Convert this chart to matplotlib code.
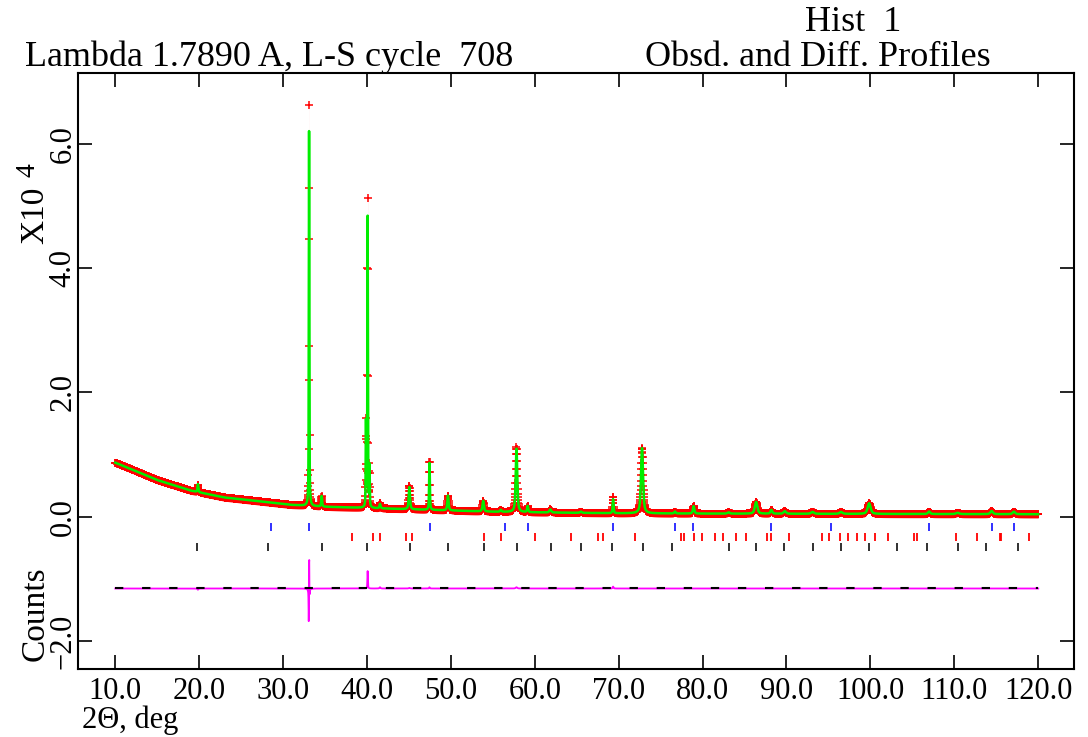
import matplotlib.pyplot as plt
import numpy as np

plt.rcParams['font.family'] = ['Liberation Serif', 'DejaVu Serif']

# background under the pattern (counts / 1e4)
bkg_tth = [10, 12, 15, 19, 23, 27, 31, 35, 40, 45, 50, 55, 60, 70, 80, 100, 120]
bkg_int = [0.87, 0.76, 0.59, 0.42, 0.31, 0.25, 0.19, 0.16, 0.14, 0.12,
           0.10, 0.08, 0.07, 0.055, 0.05, 0.045, 0.04]

# reflections seen in the profile: position, calc height, fwhm,
# and the observed height / fwhm / shift where they differ
peak_tth = [19.85, 33.10, 34.60, 39.88, 40.08, 40.30, 41.55, 45.05, 47.45,
            49.65, 53.85, 55.95, 57.82, 59.15, 61.85, 65.50, 69.33, 72.78,
            76.70, 78.93, 83.10, 86.38, 88.20, 89.80, 93.10, 96.50, 99.85,
            107.0, 110.4, 114.45, 117.1]
peak_calc = [0.13, 6.03, 0.17, 1.35, 4.67, 0.65, 0.07, 0.36, 0.78,
             0.24, 0.17, 0.03, 1.02, 0.10, 0.05, 0.02, 0.23, 1.05,
             0.03, 0.12, 0.02, 0.19, 0.06, 0.04, 0.03, 0.03, 0.17,
             0.04, 0.02, 0.05, 0.04]
peak_fwhm = [0.12, 0.07, 0.12, 0.07, 0.07, 0.07, 0.15, 0.18, 0.10,
             0.18, 0.20, 0.20, 0.22, 0.15, 0.25, 0.25, 0.12, 0.28,
             0.20, 0.20, 0.30, 0.35, 0.25, 0.35, 0.40, 0.40, 0.42,
             0.30, 0.45, 0.35, 0.35]
peak_obs = [0.11, 6.50, 0.17, 1.35, 4.95, 0.65, 0.09, 0.37, 0.80,
            0.24, 0.17, 0.03, 1.04, 0.10, 0.05, 0.02, 0.26, 1.05,
            0.03, 0.12, 0.02, 0.19, 0.06, 0.04, 0.03, 0.03, 0.17,
            0.04, 0.02, 0.05, 0.04]
peak_obs_fwhm = [0.12, 0.062, 0.12, 0.07, 0.07, 0.07, 0.15, 0.18, 0.10,
                 0.18, 0.20, 0.20, 0.22, 0.15, 0.25, 0.25, 0.12, 0.28,
                 0.20, 0.20, 0.30, 0.35, 0.25, 0.35, 0.40, 0.40, 0.42,
                 0.30, 0.45, 0.35, 0.35]
peak_shift = [0.0, 0.003, 0.0, 0.0, 0.0, 0.0, 0.0, 0.0, 0.0,
              0.0, 0.0, 0.0, 0.0, 0.0, 0.0, 0.0, 0.0, 0.0,
              0.0, 0.0, 0.0, 0.0, 0.0, 0.0, 0.0, 0.0, 0.0,
              0.0, 0.0, 0.0, 0.0]

# reflection markers for the three phases
phase1_tth = [28.6, 33.1, 47.5, 56.4, 59.15, 69.3, 76.7, 78.9, 88.2, 95.3,
              107.0, 114.5, 117.1]
phase2_tth = [38.2, 40.7, 41.5, 44.6, 45.4, 53.9, 55.95, 60.0, 64.35, 67.55,
              68.1, 71.9, 77.45, 77.75, 78.95, 79.95, 81.5, 82.45, 84.0, 85.2,
              87.65, 88.1, 90.25, 94.2, 95.1, 96.35, 97.35, 98.4, 99.35, 100.6,
              102.1, 105.15, 105.5, 110.25, 112.65, 115.45, 115.6, 118.95]
phase3_tth = [19.8, 28.15, 34.6, 40.05, 45.1, 49.7, 53.95, 57.9, 61.9, 65.55,
              69.2, 72.9, 76.3, 83.1, 86.4, 89.75, 93.15, 96.5, 99.8, 103.15,
              106.7, 110.4, 113.8, 117.65]

diff_offset = -1.155
step = 0.02


def pv(x, pos, fwhm, eta=0.6):
    u = (x - pos) / (fwhm / 2)
    return eta / (1 + u ** 2) + (1 - eta) * np.exp(-np.log(2) * u ** 2)


tth = np.arange(bkg_tth[0], bkg_tth[-1] + step / 2, step)
bkg = np.interp(tth, bkg_tth, bkg_int)
calc = bkg.copy()
obs = bkg.copy()
for i, p in enumerate(peak_tth):
    calc += peak_calc[i] * pv(tth, p, peak_fwhm[i])
    obs += peak_obs[i] * pv(tth, p + peak_shift[i], peak_obs_fwhm[i])

fig = plt.figure(figsize=(10.88, 7.37), dpi=100)
ax = fig.add_axes([0.072, 0.0923, 0.9154, 0.8087])

ax.fill_between(tth, obs - 0.06, obs + 0.06, color='red', lw=0)
ax.plot(tth, obs, '+', color='red', ms=6, mew=1.1)
ax.plot(tth, calc, color='#00ee00', lw=1.8)

ax.vlines(phase1_tth, -0.16 - 0.065, -0.16 + 0.065, color='#2020ff', lw=1.3)
ax.vlines(phase2_tth, -0.32 - 0.065, -0.32 + 0.065, color='red', lw=1.3)
ax.vlines(phase3_tth, -0.48 - 0.065, -0.48 + 0.065, color='#202020', lw=1.3)

ax.plot(tth, obs - calc + diff_offset, color='magenta', lw=1.3)
ax.hlines(diff_offset, tth[0], tth[-1], color='black', lw=1.5,
          linestyles=(0, (4, 9)))

ax.set_xlim(5.6, 124.3)
ax.set_ylim(-2.45, 7.14)
xt = np.arange(10, 121, 10)
ax.set_xticks(xt)
ax.set_xticklabels([f'{v:.1f}' for v in xt])
yt = [-2, 0, 2, 4, 6]
ax.set_yticks(yt)
ax.set_yticklabels([f'{v:.1f}'.replace('-', '\u2212') for v in yt],
                   rotation=90, va='center')
ax.tick_params(direction='in', length=10, width=1.2, top=True, right=True,
               labelsize=22, pad=6)
ax.tick_params(axis='y', pad=0.5)
for s in ax.spines.values():
    s.set_linewidth(1.5)

fig.text(25 / 1088, 1 - 66 / 737, 'Lambda 1.7890 A, L-S cycle  708',
         fontsize=26, va='baseline')
fig.text(645 / 1088, 1 - 66 / 737, 'Obsd. and Diff. Profiles',
         fontsize=26, va='baseline')
fig.text(805 / 1088, 1 - 31 / 737, 'Hist  1', fontsize=26, va='baseline')
fig.text(35 / 1088, 1 - 215 / 737, 'X10', fontsize=24, rotation=90,
         ha='center', va='center')
fig.text(28 / 1088, 1 - 170 / 737, '4', fontsize=20, rotation=90,
         ha='center', va='center')
fig.text(35 / 1088, 1 - 614 / 737, 'Counts', fontsize=24, rotation=90,
         ha='center', va='center')
fig.text(82 / 1088, 1 - 720 / 737, '2\u0398, deg', fontsize=22,
         va='center')

fig.savefig('out.png', dpi=100)
